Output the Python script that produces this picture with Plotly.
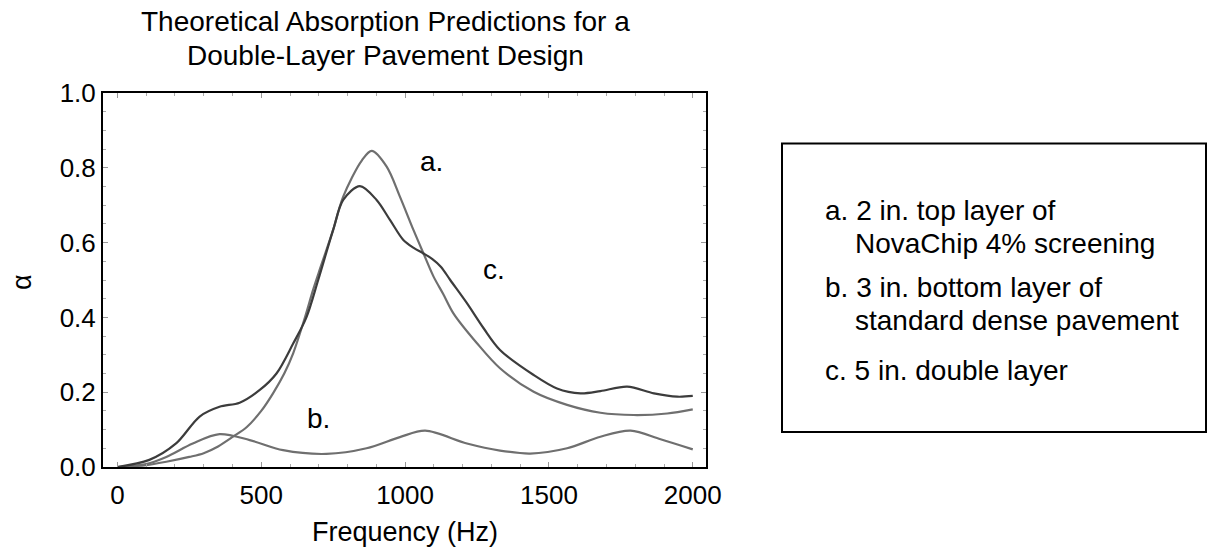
import plotly.graph_objects as go

# ---- data ----
freq_a = [0, 100, 170, 250, 300, 350, 402, 450, 500, 541, 580, 611, 650, 680, 700, 750, 785, 850, 884, 936, 982, 1029, 1064, 1099, 1133, 1168, 1250, 1330, 1447, 1563, 1679, 1795, 1911, 2000]
alpha_a = [0.0, 0.005, 0.014, 0.027, 0.037, 0.055, 0.081, 0.107, 0.15, 0.197, 0.25, 0.304, 0.395, 0.473, 0.52, 0.634, 0.723, 0.82, 0.845, 0.803, 0.723, 0.634, 0.571, 0.509, 0.462, 0.411, 0.331, 0.264, 0.201, 0.166, 0.145, 0.139, 0.143, 0.154]

freq_b = [0, 100, 170, 262, 355, 460, 576, 727, 866, 982, 1070, 1215, 1330, 1435, 1563, 1679, 1784, 1888, 2000]
alpha_b = [0.0, 0.008, 0.027, 0.063, 0.088, 0.072, 0.045, 0.035, 0.05, 0.08, 0.097, 0.063, 0.044, 0.036, 0.05, 0.081, 0.097, 0.074, 0.047]

freq_c = [0, 111, 204, 286, 355, 425, 495, 553, 611, 657, 698, 750, 785, 843, 901, 948, 994, 1030, 1064, 1095, 1125, 1157, 1215, 1273, 1330, 1447, 1528, 1610, 1679, 1772, 1865, 1946, 2000]
alpha_c = [0.0, 0.019, 0.063, 0.135, 0.161, 0.172, 0.206, 0.25, 0.33, 0.40, 0.5, 0.634, 0.714, 0.751, 0.714, 0.66, 0.607, 0.586, 0.571, 0.556, 0.535, 0.5, 0.438, 0.371, 0.313, 0.246, 0.21, 0.197, 0.203, 0.215, 0.197, 0.188, 0.19]

curve_labels = ["a.", "b.", "c."]
label_pos_f = [1093, 698, 1308]
label_pos_alpha = [0.816, 0.13, 0.527]

title_lines = ["Theoretical Absorption Predictions for a", "Double-Layer Pavement Design"]
legend_lines = [
    ("a. 2 in. top layer of", 0),
    ("NovaChip 4% screening", 1),
    ("b. 3 in. bottom layer of", 0),
    ("standard dense pavement", 1),
    ("c. 5 in. double layer", 0),
]
x_title = "Frequency (Hz)"
y_title = "α"

x_ticks = [0, 500, 1000, 1500, 2000]
y_ticks = [0.0, 0.2, 0.4, 0.6, 0.8, 1.0]

# ---- layout geometry (pixels) ----
W, H = 1209, 548
L, R, T, B = 103, 706, 93, 467
pw, ph = R - L, B - T

def px_x(p):
    return (p - L) / pw

def px_y(p):
    return (B - p) / ph

FONT = "Liberation Sans, Arial, Helvetica, sans-serif"
GRAY_MED = "#6f6f6f"
GRAY_DARK = "#3c3c3c"

fig = go.Figure()
fig.add_trace(go.Scatter(x=freq_a, y=alpha_a, mode="lines", line=dict(color=GRAY_MED, width=2.2, shape="spline", smoothing=0.9), name="a"))
fig.add_trace(go.Scatter(x=freq_b, y=alpha_b, mode="lines", line=dict(color=GRAY_MED, width=2.2, shape="spline", smoothing=0.9), name="b"))
fig.add_trace(go.Scatter(x=freq_c, y=alpha_c, mode="lines", line=dict(color=GRAY_DARK, width=2.2, shape="spline", smoothing=0.9), name="c"))

annotations = []
for lab, fx, fy in zip(curve_labels, label_pos_f, label_pos_alpha):
    annotations.append(dict(x=fx, y=fy, xref="x", yref="y", text=lab, showarrow=False,
                            font=dict(family=FONT, size=28, color="black"), xanchor="center", yanchor="middle"))

title_y = [21.7, 55]
for txt, yy in zip(title_lines, title_y):
    annotations.append(dict(x=px_x(385), y=px_y(yy), xref="paper", yref="paper", text=txt, showarrow=False,
                            font=dict(family=FONT, size=28, color="black"), xanchor="center", yanchor="middle"))

legend_y = [210, 243, 287, 320, 370]
for (txt, indent), yy in zip(legend_lines, legend_y):
    annotations.append(dict(x=px_x(853 if indent else 823), y=px_y(yy), xref="paper", yref="paper", text=txt,
                            showarrow=False, font=dict(family=FONT, size=28, color="black"),
                            xanchor="left", yanchor="middle"))

# axis titles
annotations.append(dict(x=px_x(405), y=px_y(532), xref="paper", yref="paper", text=x_title, showarrow=False,
                        font=dict(family=FONT, size=27, color="black"), xanchor="center", yanchor="middle"))
annotations.append(dict(x=px_x(22), y=px_y(282), xref="paper", yref="paper", text=y_title, showarrow=False,
                        textangle=-90, font=dict(family=FONT, size=27, color="black"),
                        xanchor="center", yanchor="middle"))

shapes = [dict(type="rect", xref="paper", yref="paper", x0=px_x(782), x1=px_x(1206), y0=px_y(432), y1=px_y(143.5),
               line=dict(color="black", width=2), fillcolor="rgba(0,0,0,0)")]

fig.update_layout(
    width=W, height=H,
    margin=dict(l=L, r=W - R, t=T, b=H - B, pad=0),
    paper_bgcolor="white", plot_bgcolor="white",
    showlegend=False,
    font=dict(family=FONT, size=26, color="black"),
    annotations=annotations,
    shapes=shapes,
    xaxis=dict(range=[-50, 2046], tickvals=x_ticks, ticktext=[str(v) for v in x_ticks], automargin=False,
               showgrid=False, zeroline=False, showline=True, linecolor="black", linewidth=2, mirror="ticks",
               ticks="inside", ticklen=5, tickwidth=1, tickcolor="#999999", ticklabelstandoff=4,
               minor=dict(dtick=100, tick0=0, ticks="inside", ticklen=3, tickcolor="#aaaaaa", showgrid=False),
               tickfont=dict(family=FONT, size=26, color="black")),
    yaxis=dict(range=[0, 1.0], tickvals=y_ticks, ticktext=[f"{v:.1f}" for v in y_ticks], automargin=False,
               showgrid=False, zeroline=False, showline=True, linecolor="black", linewidth=2, mirror="ticks",
               ticks="inside", ticklen=5, tickwidth=1, tickcolor="#999999",
               minor=dict(dtick=0.05, tick0=0, ticks="inside", ticklen=3, tickcolor="#aaaaaa", showgrid=False),
               tickfont=dict(family=FONT, size=26, color="black")),
)

fig.write_html("out.html")
